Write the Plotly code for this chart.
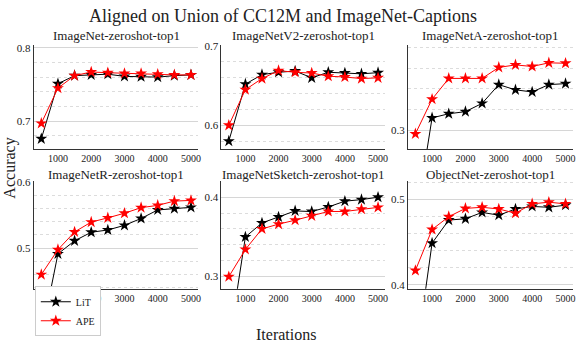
import plotly.graph_objects as go

W, H = 581, 350
iterations = [500, 1000, 1500, 2000, 2500, 3000, 3500, 4000, 4500, 5000]

titles = ["ImageNet-zeroshot-top1", "ImageNetV2-zeroshot-top1", "ImageNetA-zeroshot-top1",
          "ImageNetR-zeroshot-top1", "ImageNetSketch-zeroshot-top1", "ObjectNet-zeroshot-top1"]

lit_imagenet = [0.676, 0.751, 0.762, 0.763, 0.764, 0.761, 0.7605, 0.760, 0.762, 0.763]
ape_imagenet = [0.697, 0.745, 0.762, 0.767, 0.766, 0.765, 0.765, 0.764, 0.763, 0.763]

lit_imagenetv2 = [0.580, 0.652, 0.664, 0.667, 0.6685, 0.660, 0.667, 0.666, 0.665, 0.6665]
ape_imagenetv2 = [0.600, 0.645, 0.659, 0.669, 0.667, 0.666, 0.662, 0.661, 0.659, 0.660]

lit_imageneta = [0.211, 0.312, 0.316, 0.318, 0.326, 0.344, 0.339, 0.337, 0.344, 0.345]
ape_imageneta = [0.2966, 0.330, 0.350, 0.350, 0.350, 0.3606, 0.363, 0.3615, 0.365, 0.3646]

lit_imagenetr = [0.365, 0.491, 0.511, 0.524, 0.5275, 0.5345, 0.545, 0.558, 0.560, 0.562]
ape_imagenetr = [0.4595, 0.4975, 0.5245, 0.5395, 0.546, 0.553, 0.5615, 0.565, 0.5715, 0.5725]

lit_sketch = [0.214, 0.3498, 0.3675, 0.375, 0.3827, 0.3819, 0.3877, 0.395, 0.397, 0.400]
ape_sketch = [0.2996, 0.334, 0.360, 0.366, 0.371, 0.3765, 0.382, 0.382, 0.385, 0.3872]

lit_objectnet = [0.308, 0.4489, 0.476, 0.4775, 0.485, 0.4817, 0.489, 0.492, 0.491, 0.4935]
ape_objectnet = [0.4168, 0.4649, 0.480, 0.4897, 0.491, 0.489, 0.484, 0.495, 0.497, 0.495]

lit_series = [lit_imagenet, lit_imagenetv2, lit_imageneta, lit_imagenetr, lit_sketch, lit_objectnet]
ape_series = [ape_imagenet, ape_imagenetv2, ape_imageneta, ape_imagenetr, ape_sketch, ape_objectnet]

y_ranges = [[0.662, 0.8035], [0.570, 0.7012], [0.282, 0.382],
            [0.438, 0.6015], [0.2844, 0.420], [0.3954, 0.5214]]

x_ticks = [1000, 2000, 3000, 4000, 5000]

# pixel layout
col_px = [(34, 199.5), (222.5, 387.5), (410, 576)]
row_px = [(41, 147), (180, 289.5)]
title_center_px = [31.5, 172.5]

FONT = "Liberation Serif"
fig = go.Figure()

for i in range(6):
    r, c = divmod(i, 3)
    k = i + 1
    xa = "x" if k == 1 else f"x{k}"
    ya = "y" if k == 1 else f"y{k}"
    fig.add_trace(go.Scatter(
        x=iterations, y=lit_series[i], name="LiT", mode="lines+markers",
        line=dict(color="black", width=1), marker=dict(symbol="star", size=9, color="black"),
        xaxis=xa, yaxis=ya, showlegend=(i == 0), legendrank=1))
    fig.add_trace(go.Scatter(
        x=iterations, y=ape_series[i], name="APE", mode="lines+markers",
        line=dict(color="red", width=1), marker=dict(symbol="star", size=9, color="red"),
        xaxis=xa, yaxis=ya, showlegend=(i == 0), legendrank=2))

    x0, x1 = col_px[c]
    y0, y1 = row_px[r]
    xkey = "xaxis" if k == 1 else f"xaxis{k}"
    ykey = "yaxis" if k == 1 else f"yaxis{k}"
    fig.layout[xkey] = dict(
        domain=[x0 / W, x1 / W], anchor=ya, range=[275, 5225],
        tickvals=x_ticks, showgrid=False, zeroline=False,
        showline=True, linecolor="#333", linewidth=1, ticks="",
        tickfont=dict(family=FONT, size=10, color="#222"))
    fig.layout[ykey] = dict(
        domain=[1 - y1 / H, 1 - y0 / H], anchor=xa, range=y_ranges[i],
        dtick=0.1, tick0=0, tickformat=".1f",
        showgrid=True, gridcolor="#d6d6d6", gridwidth=1, zeroline=False,
        showline=True, linecolor="#333", linewidth=1, ticks="",
        minor=dict(dtick=0.02, tick0=0, showgrid=True, gridcolor="#dcdcdc", griddash="dot", gridwidth=1),
        tickfont=dict(family=FONT, size=11, color="#222"))
    fig.add_annotation(
        text=titles[i], x=(x0 + x1) / 2 / W, y=1 - title_center_px[r] / H, xref="paper", yref="paper",
        xanchor="center", yanchor="middle", showarrow=False,
        font=dict(family=FONT, size=13, color="#222"))

fig.add_annotation(text="Aligned on Union of CC12M and ImageNet-Captions",
                   x=284 / W, y=1 - 11 / H, xref="paper", yref="paper",
                   xanchor="center", yanchor="middle", showarrow=False,
                   font=dict(family=FONT, size=18, color="#222"))
fig.add_annotation(text="Iterations", x=287 / W, y=1 - 336 / H, xref="paper", yref="paper",
                   xanchor="center", yanchor="middle", showarrow=False,
                   font=dict(family=FONT, size=16, color="#222"))
fig.add_annotation(text="Accuracy", x=10 / W, y=1 - 166 / H, xref="paper", yref="paper",
                   xanchor="center", yanchor="middle", showarrow=False, textangle=-90,
                   font=dict(family=FONT, size=16, color="#222"))

fig.update_layout(
    width=W, height=H, margin=dict(l=0, r=0, t=0, b=0),
    paper_bgcolor="white", plot_bgcolor="white",
    showlegend=True,
    legend=dict(x=35 / W, y=1 - 287 / H, xanchor="left", yanchor="top",
                bgcolor="white", bordercolor="#cccccc", borderwidth=1,
                font=dict(family=FONT, size=10, color="#222"),
                itemwidth=30, tracegroupgap=0),
)

fig.write_html("out.html", config={"displayModeBar": False},
               post_script="document.body.style.margin='0';document.body.style.overflow='hidden';")
